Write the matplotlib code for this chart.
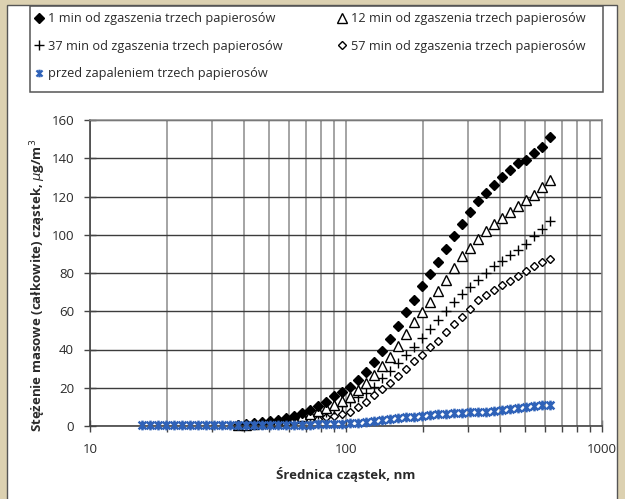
import matplotlib
matplotlib.use('Agg')
import matplotlib.pyplot as plt
from matplotlib import font_manager
from matplotlib.patches import Rectangle
from matplotlib.path import Path
from matplotlib.lines import Line2D
from matplotlib.ticker import FixedLocator, NullFormatter

# particle diameters, nm (32 channels per decade)
diameters = [16.0, 17.2, 18.4, 19.8, 21.3, 22.9, 24.6, 26.4, 28.4, 30.5,
             32.8, 35.2, 37.9, 40.7, 43.7, 47.0, 50.5, 54.3, 58.3, 62.7,
             67.3, 72.3, 77.7, 83.5, 89.8, 96.5, 103.7, 111.4, 119.7, 128.6,
             138.2, 148.5, 159.6, 171.5, 184.3, 198.1, 212.8, 228.7, 245.8, 264.1,
             283.8, 304.9, 327.7, 352.1, 378.4, 406.6, 436.9, 469.5, 504.5, 542.1,
             582.5, 626.0]

# before lighting (all channels)
before = [0.3, 0.3, 0.3, 0.3, 0.3, 0.3, 0.3, 0.3, 0.3, 0.3,
          0.3, 0.3, 0.3, 0.3, 0.3, 0.4, 0.4, 0.4, 0.5, 0.5,
          0.6, 0.7, 0.8, 0.9, 1.0, 1.2, 1.4, 1.7, 2.3, 2.6,
          3.1, 3.5, 4.0, 4.5, 4.9, 5.2, 5.8, 6.1, 6.3, 6.6,
          7.0, 7.5, 7.3, 7.5, 8.0, 8.4, 8.7, 9.2, 10.0, 10.5,
          11.0, 11.0]

# after extinguishing, from 37.9 nm up
d_after = diameters[12:]
min1 = [0.6, 1.0, 1.4, 2.0, 2.6, 3.3, 4.2, 5.3, 6.6, 8.2,
        10.3, 12.8, 15.5, 18.0, 20.5, 24.1, 28.4, 33.7, 39.4, 45.4,
        52.4, 59.5, 66.0, 73.0, 79.6, 85.9, 92.8, 99.6, 105.8, 111.7,
        117.6, 122.0, 126.0, 130.0, 134.0, 137.5, 139.0, 143.0, 146.0, 151.0]
min12 = [0.5, 0.7, 1.0, 1.4, 1.9, 2.5, 3.2, 4.1, 5.1, 6.3,
         7.7, 9.3, 11.2, 13.2, 15.4, 18.8, 22.7, 26.5, 31.6, 36.3,
         41.9, 48.2, 54.5, 59.7, 65.0, 70.7, 76.4, 82.5, 88.7, 93.0,
         98.0, 102.0, 105.8, 109.0, 111.7, 115.0, 118.0, 121.0, 125.0, 128.4]
min37 = [0.4, 0.6, 0.8, 1.1, 1.5, 2.0, 2.6, 3.3, 4.1, 5.0,
         6.1, 7.4, 8.9, 10.6, 12.5, 15.0, 17.0, 20.6, 25.0, 28.8,
         32.8, 37.2, 41.5, 46.2, 50.6, 55.5, 59.9, 64.6, 68.9, 72.6,
         76.4, 79.9, 83.4, 86.4, 89.5, 91.8, 95.3, 99.1, 103.0, 107.0]
min57 = [0.2, 0.3, 0.5, 0.7, 0.9, 1.2, 1.5, 1.9, 2.4, 3.0,
         3.7, 4.5, 5.4, 6.4, 7.5, 9.8, 12.7, 16.2, 19.2, 22.3,
         26.2, 29.7, 33.9, 37.2, 41.2, 44.7, 48.9, 53.2, 56.9, 61.1,
         66.0, 68.6, 70.9, 73.5, 75.9, 78.5, 81.2, 83.4, 85.5, 87.3]

labels = ['1 min od zgaszenia trzech papierosów',
          '12 min od zgaszenia trzech papierosów',
          '37 min od zgaszenia trzech papierosów',
          '57 min od zgaszenia trzech papierosów',
          'przed zapaleniem trzech papierosów']

available = {f.name for f in font_manager.fontManager.ttflist}
family = next(f for f in ['Open Sans', 'Noto Sans', 'DejaVu Sans'] if f in available)
plt.rcParams['font.family'] = family

# excel-like star: an x with a vertical bar
star = Path([(-1, -1), (1, 1), (-1, 1), (1, -1), (0, -1.25), (0, 1.25)],
            [Path.MOVETO, Path.LINETO] * 3)
blue = '#2f62b8'
txt = '#2a2a2a'

fig = plt.figure(figsize=(6.25, 4.99), dpi=100, facecolor='#dcd1b1')
fig.patches.append(Rectangle((7 / 625, -0.01), 610 / 625, 1.01 - 5 / 499,
                             transform=fig.transFigure, facecolor='white',
                             edgecolor='#555555', lw=1, zorder=-2))
fig.patches.append(Rectangle((30 / 625, 1 - 92 / 499), 573 / 625, 86 / 499,
                             transform=fig.transFigure, facecolor='none',
                             edgecolor='#555555', lw=1.1, zorder=-1))

ax = fig.add_axes([90 / 625, 73 / 499, 512 / 625, 306 / 499])
ax.set_facecolor('white')

ax.plot(d_after, min57, ls='none', marker='D', ms=4.5, mfc='white', mec='black', mew=1, clip_on=False)
ax.plot(d_after, min37, ls='none', marker='+', ms=7.5, mec='black', mew=1, clip_on=False)
ax.plot(d_after, min12, ls='none', marker='^', ms=7.5, mfc='white', mec='black', mew=1, clip_on=False)
ax.plot(d_after, min1, ls='none', marker='D', ms=5.5, color='black', clip_on=False)
ax.plot(diameters, before, ls='none', marker=star, ms=7, mfc='none', mec=blue, mew=1.8,
        clip_on=False, zorder=5)

ax.set_xscale('log')
ax.set_xlim(10, 1000)
ax.set_ylim(0, 160)
ax.set_yticks(range(0, 161, 20))
ax.xaxis.set_major_locator(FixedLocator([10, 100, 1000]))
ax.xaxis.set_minor_locator(FixedLocator([20, 30, 40, 50, 60, 70, 80, 90,
                                         200, 300, 400, 500, 600, 700, 800, 900]))
ax.xaxis.set_minor_formatter(NullFormatter())
ax.set_xticklabels(['10', '100', '1000'])

ax.grid(True, axis='x', which='both', color='#8c8c8c', lw=1.1)
ax.grid(True, axis='y', which='major', color='#3c3c3c', lw=1)
ax.set_axisbelow(True)

for side in ['left', 'bottom']:
    ax.spines[side].set_color('#444444')
    ax.spines[side].set_linewidth(1.2)
for side in ['top', 'right']:
    ax.spines[side].set_color('#8c8c8c')
    ax.spines[side].set_linewidth(1.1)

ax.tick_params(axis='y', which='major', direction='inout', length=9, width=1,
               color='#444444', labelsize=9.5, labelcolor=txt, pad=7)
ax.tick_params(axis='x', which='major', direction='inout', length=9, width=1,
               color='#444444', labelsize=9.5, labelcolor=txt, pad=8)
ax.tick_params(axis='x', which='minor', direction='out', length=4, width=1, color='#444444')

ax.set_xlabel('Średnica cząstek, nm', fontsize=9.5, fontweight='bold', color=txt)
ax.set_ylabel('Stężenie masowe (całkowite) cząstek, $\\mu$g/m$^3$', fontsize=9.5,
              fontweight='bold', color=txt)
ax.xaxis.label.set_va('center')
ax.yaxis.label.set_va('center')
ax.xaxis.set_label_coords(0.5, -0.157)
ax.yaxis.set_label_coords(-0.102, 0.46)

# legend: two columns of entries inside the drawn box
handles = [
    Line2D([], [], ls='none', marker='D', ms=5, color='black'),
    Line2D([], [], ls='none', marker='^', ms=6.5, mfc='white', mec='black', mew=1),
    Line2D([], [], ls='none', marker='+', ms=7, mec='black', mew=1),
    Line2D([], [], ls='none', marker='D', ms=4, mfc='white', mec='black', mew=1),
    Line2D([], [], ls='none', marker=star, ms=5.5, mfc='none', mec=blue, mew=1.6),
]
leg_kw = dict(loc='upper left', frameon=False, fontsize=9.2, handlelength=0.6,
              handletextpad=0.45, labelspacing=1.15, borderaxespad=0, borderpad=0,
              labelcolor=txt)
fig.legend([handles[0], handles[2], handles[4]], [labels[0], labels[2], labels[4]],
           bbox_to_anchor=(35 / 625, 1 - 12 / 499), **leg_kw)
fig.legend([handles[1], handles[3]], [labels[1], labels[3]],
           bbox_to_anchor=(338 / 625, 1 - 12 / 499), **leg_kw)

fig.savefig('out.png', dpi=100, facecolor=fig.get_facecolor())
